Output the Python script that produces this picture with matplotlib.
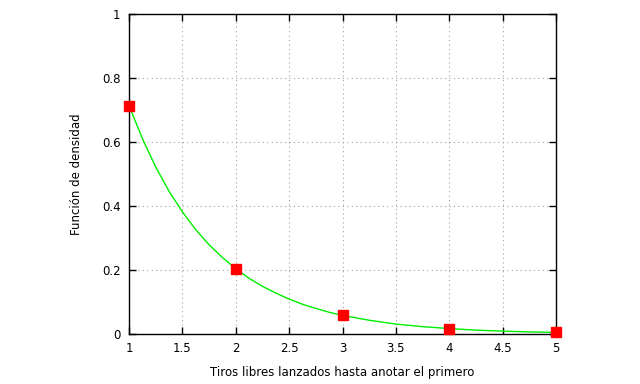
import matplotlib
matplotlib.use('Agg')
import matplotlib.pyplot as plt

# Probabilities at each integer number of throws
tiros = [1, 2, 3, 4, 5]
densidad = [0.714, 0.204, 0.058, 0.017, 0.005]

# Continuous curve
curva_x = [1, 1.125, 1.25, 1.375, 1.5, 1.625, 1.75, 1.875, 2, 2.125, 2.25,
           2.375, 2.5, 2.625, 2.75, 2.875, 3, 3.25, 3.5, 3.75, 4, 4.25,
           4.5, 4.75, 5]
curva_y = [0.714, 0.611, 0.522, 0.446, 0.382, 0.326, 0.279, 0.239, 0.204,
           0.174, 0.149, 0.128, 0.109, 0.093, 0.080, 0.068, 0.058, 0.043,
           0.031, 0.023, 0.017, 0.012, 0.009, 0.0065, 0.005]

xticks = [1, 1.5, 2, 2.5, 3, 3.5, 4, 4.5, 5]
xlabels = ['1', '1.5', '2', '2.5', '3', '3.5', '4', '4.5', '5']
yticks = [0, 0.2, 0.4, 0.6, 0.8, 1]
ylabels = ['0', '0.2', '0.4', '0.6', '0.8', '1']

fig = plt.figure(figsize=(6.4, 3.84), dpi=100)
ax = fig.add_axes([129 / 640, 1 - 334 / 384, 427 / 640, 320 / 384])

ax.plot(curva_x, curva_y, color='#00ee00', linewidth=1, zorder=2)
ax.plot(tiros, densidad, linestyle='none', marker='s', markersize=7.5,
        color='#ff0000', clip_on=False, zorder=3)

ax.set_xlim(1, 5)
ax.set_ylim(0, 1)
ax.set_xticks(xticks)
ax.set_xticklabels(xlabels)
ax.set_yticks(yticks)
ax.set_yticklabels(ylabels)
ax.tick_params(direction='in', top=True, right=True, length=5, width=1,
               labelsize=8.5, pad=6)
ax.grid(True, linestyle=(0, (1, 3)), color='#a0a0a0', linewidth=0.8)
for s in ax.spines.values():
    s.set_linewidth(1)

ax.set_xlabel('Tiros libres lanzados hasta anotar el primero', fontsize=8.5, labelpad=8)
ax.set_ylabel('Función de densidad', fontsize=8.5, labelpad=14)

fig.savefig('out.png', dpi=100)
